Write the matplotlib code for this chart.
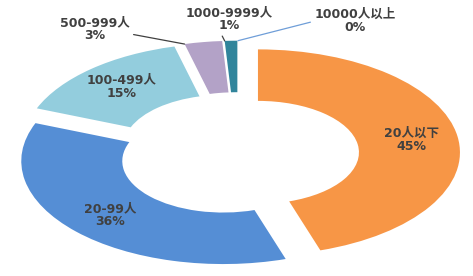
import numpy as np
import matplotlib
matplotlib.use("Agg")
import matplotlib.pyplot as plt

plt.rcParams['font.family'] = ['DejaVu Sans', 'Noto Sans CJK SC']

# 企业规模分布
categorias = ["20人以下", "20-99人", "100-499人", "500-999人", "1000-9999人", "10000人以上"]
porcentajes = [45, 36, 15, 3, 1, 0]
colores = ["#F79646", "#558ED5", "#93CDDD", "#B3A2C7", "#31859C", "#8EB4E3"]

# etiquetas fuera del anillo (posición del texto, color de la línea)
etiquetas_fuera = {
    3: ((-0.71, 1.21), (1.0, 0.33), "#404040"),
    4: ((-0.045, 1.31), (0.4, 0.0), "#404040"),
    5: ((0.58, 1.29), (0.0, 0.5), "#6F9ED8"),
}

fig = plt.figure(figsize=(4.73, 2.76), dpi=100)
ax = fig.add_axes([0, 0, 1, 1])

wedges, _ = ax.pie(
    porcentajes,
    colors=colores,
    startangle=90,
    counterclock=False,
    explode=[0.1] * len(porcentajes),
    radius=1,
    wedgeprops=dict(width=0.5, linewidth=0),
)
ax.set_aspect("auto")
ax.set_xlim(-238 / 202, 235 / 202)
ax.set_ylim(-122 / 103, 154 / 103)
ax.axis("off")

estilo = dict(fontsize=9, fontweight="bold", color="#404040",
              ha="center", va="center", linespacing=1.0)

for i, w in enumerate(wedges):
    texto = f"{categorias[i]}\n{porcentajes[i]}%"
    cx, cy = w.center
    if i in etiquetas_fuera:
        pos, relpos, lc = etiquetas_fuera[i]
        ang = np.deg2rad(w.theta2 if porcentajes[i] > 0 else w.theta1)
        xy = (cx + np.cos(ang), cy + np.sin(ang))
        ax.annotate(texto, xy=xy, xytext=pos,
                    arrowprops=dict(arrowstyle="-", color=lc, lw=0.9,
                                    relpos=relpos, shrinkA=1, shrinkB=0),
                    **estilo)
    else:
        ang = np.deg2rad((w.theta1 + w.theta2) / 2)
        ax.text(cx + 0.77 * np.cos(ang), cy + 0.77 * np.sin(ang), texto, **estilo)

fig.savefig("out.png", dpi=100)
